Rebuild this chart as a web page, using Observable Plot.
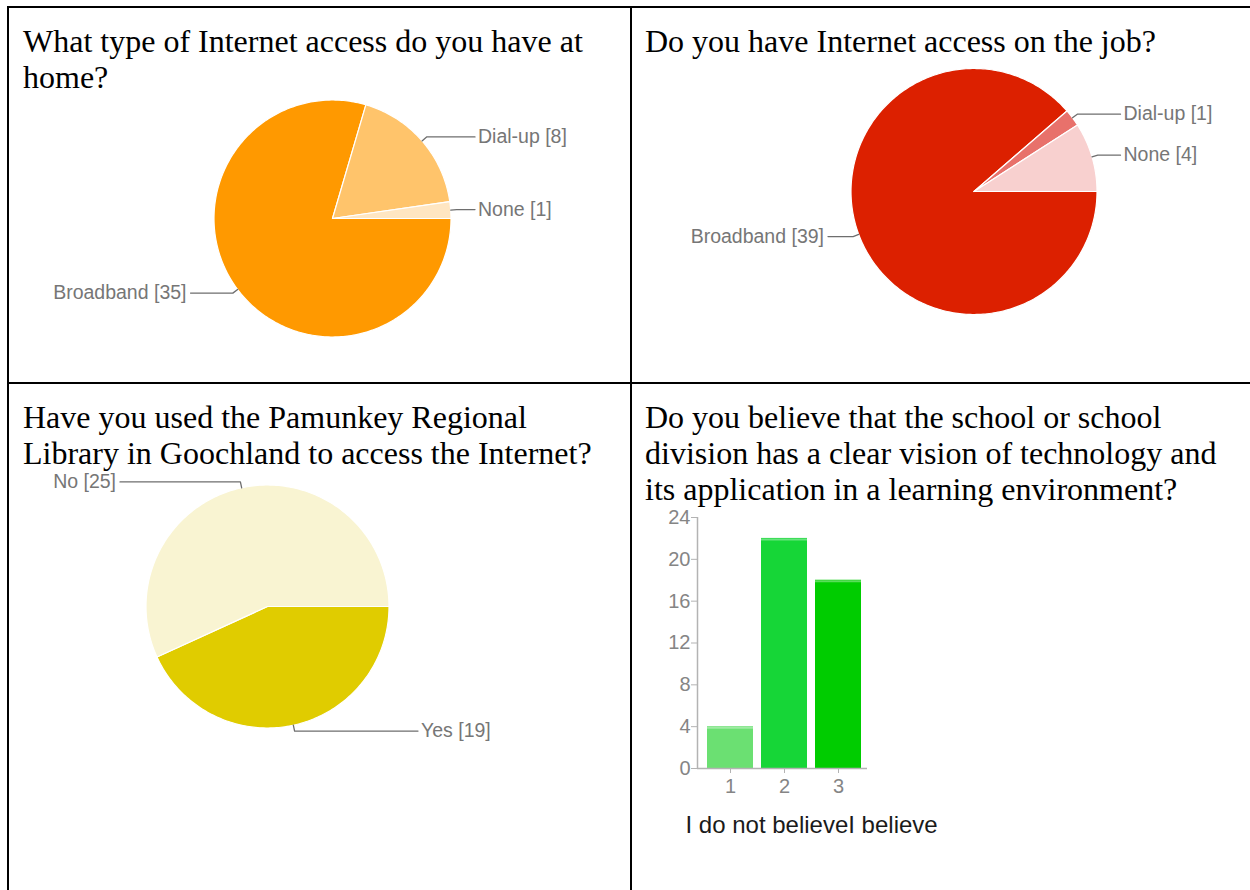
<!DOCTYPE html>
<html><head><meta charset="utf-8">
<script src="https://cdn.jsdelivr.net/npm/d3@7"></script>
<script src="https://cdn.jsdelivr.net/npm/@observablehq/plot@0.6"></script>
<style>
body{margin:0;background:#fff;width:1250px;height:890px;overflow:hidden;position:relative;}
.line{position:absolute;background:#000;}
.title{position:absolute;font-family:"Liberation Serif","Times New Roman",serif;font-size:32px;line-height:36.3px;color:#000;white-space:nowrap;z-index:2;}
.chart{position:absolute;z-index:1;}
.bar g[aria-label$="tick label"], .bar g[aria-label$="tick label"] text{font-size:20px;}
</style></head><body>
<script>
// ---- data ----
const titles = [
  "What type of Internet access do you have at<br>home?",
  "Do you have Internet access on the job?",
  "Have you used the Pamunkey Regional<br>Library in Goochland to access the Internet?",
  "Do you believe that the school or school<br>division has a clear vision of technology and<br>its application in a learning environment?"
];
const homeCategories = ["Broadband", "Dial-up", "None"];
const homeCounts = [35, 8, 1];
const jobCategories = ["Broadband", "Dial-up", "None"];
const jobCounts = [39, 1, 4];
const libraryCategories = ["Yes", "No"];
const libraryCounts = [19, 25];
const visionRatings = ["1", "2", "3"];
const visionCounts = [4, 22, 18];
const visionTicks = [0, 4, 8, 12, 16, 20, 24];
const visionAxisLabel = "I do not believeI believe";

// ---- styles ----
const homeColors = ["#ff9900", "#ffc46b", "#ffe6c2"];
const jobColors = ["#dc2000", "#e8716b", "#f8d0cf"];
const libraryColors = ["#e0cc00", "#f9f4d2"];
const visionColors = ["#6be072", "#16d637", "#00cc00"];
const SANS = "'Liberation Sans', Arial, Helvetica, sans-serif";

// ---- table grid ----
function box(cls, css, html) {
  const d = document.createElement("div");
  d.className = cls;
  Object.assign(d.style, css);
  if (html) d.innerHTML = html;
  document.body.appendChild(d);
  return d;
}
box("line", {left: "7px", top: "6px", width: "1243px", height: "2px"});
box("line", {left: "7px", top: "6px", width: "2px", height: "884px"});
box("line", {left: "630px", top: "6px", width: "2px", height: "884px"});
box("line", {left: "7px", top: "382px", width: "1243px", height: "2px"});

box("title", {left: "23px", top: "22.7px"}, titles[0]);
box("title", {left: "645px", top: "22.7px"}, titles[1]);
box("title", {left: "23px", top: "398.7px"}, titles[2]);
box("title", {left: "645px", top: "398.7px"}, titles[3]);

// ---- pies ----
function pieChart({left, top, W, H, cx, cy, r, categories, counts, colors, gapL, gapR}) {
  const arcs = d3.pie().sort(null).startAngle(Math.PI / 2).endAngle(Math.PI / 2 + 2 * Math.PI)(counts);
  const slices = arcs.map((a, i) => {
    const n = Math.max(3, Math.ceil((a.endAngle - a.startAngle) / (Math.PI / 180)));
    const pts = [{x: cx, y: cy}];
    for (let k = 0; k <= n; k++) {
      const t = a.startAngle + (a.endAngle - a.startAngle) * k / n;
      pts.push({x: cx + r * Math.sin(t), y: cy - r * Math.cos(t)});
    }
    return {pts, color: colors[i]};
  });
  const leaders = arcs.map((a, i) => {
    const m = (a.startAngle + a.endAngle) / 2;
    const s = Math.sin(m), c = Math.cos(m);
    const right = s > 0;
    const ex = cx + (r + 6) * s, ey = cy - (r + 6) * c;
    const endX = right ? cx + r + gapR : cx - r - gapL;
    return {right, label: `${categories[i]} [${counts[i]}]`,
      pts: [{x: cx + r * s, y: cy - r * c}, {x: ex, y: ey}, {x: endX, y: ey}]};
  });
  const chart = Plot.plot({
    width: W, height: H, margin: 0,
    style: {background: "transparent", fontFamily: SANS},
    x: {domain: [left, left + W], range: [0, W], axis: null},
    y: {domain: [top, top + H], range: [0, H], axis: null},
    marks: [
      ...slices.map(s => Plot.line(s.pts, {x: "x", y: "y", fill: s.color, stroke: "white", strokeWidth: 1.2, curve: "linear-closed"})),
      ...leaders.map(l => Plot.line(l.pts, {x: "x", y: "y", stroke: "#6e6e6e", strokeWidth: 1.3})),
      Plot.text(leaders.filter(l => l.right), {x: d => d.pts[2].x, y: d => d.pts[2].y, text: "label", textAnchor: "start", dx: 3, fontSize: 19.5, fill: "#767676", fontFamily: SANS}),
      Plot.text(leaders.filter(l => !l.right), {x: d => d.pts[2].x, y: d => d.pts[2].y, text: "label", textAnchor: "end", dx: -4, fontSize: 19.5, fill: "#767676", fontFamily: SANS})
    ]
  });
  const holder = box("chart", {left: left + "px", top: top + "px"});
  holder.appendChild(chart);
}

pieChart({left: 0, top: 0, W: 630, H: 382, cx: 332, cy: 218, r: 118.5,
  categories: homeCategories, counts: homeCounts, colors: homeColors, gapL: 23.5, gapR: 24});
pieChart({left: 632, top: 0, W: 618, H: 382, cx: 973.5, cy: 191, r: 123,
  categories: jobCategories, counts: jobCounts, colors: jobColors, gapL: 23, gapR: 23.5});
pieChart({left: 0, top: 384, W: 630, H: 506, cx: 267, cy: 606, r: 121.5,
  categories: libraryCategories, counts: libraryCounts, colors: libraryColors, gapL: 26, gapR: 29});

// ---- bar chart ----
const visionData = visionRatings.map((rating, i) => ({rating, count: visionCounts[i], color: visionColors[i]}));
const barW = 320, barH = 360, mL = 57, mR = 93, mT = 17, mB = 92;
const bar = Plot.plot({
  width: barW, height: barH, marginLeft: mL, marginRight: mR, marginTop: mT, marginBottom: mB,
  style: {background: "transparent", fontFamily: SANS},
  x: {domain: visionRatings, paddingInner: 0.148, paddingOuter: 0.148, align: 0.625},
  y: {domain: [0, 24]},
  color: {type: "identity"},
  marks: [
    Plot.barY(visionData, {x: "rating", y: "count", fill: "color"}),
    Plot.tickY(visionData, {x: "rating", y: "count", stroke: "white", strokeOpacity: 0.35, strokeWidth: 2, dy: 1}),
    Plot.ruleY([0], {stroke: "#b3b3b3", strokeWidth: 1.5}),
    Plot.ruleX([0], {x: null, y1: 0, y2: 24, dx: -(barW - mL - mR) / 2, stroke: "#b3b3b3", strokeWidth: 1.5}),
    Plot.axisY(visionTicks, {tickSize: 6, tickPadding: 1, fontSize: 20, color: "#858585", stroke: "#b3b3b3", label: null}),
    Plot.axisX({tickSize: 5, tickPadding: 5, fontSize: 20, color: "#858585", stroke: "#b3b3b3", label: null}),
    Plot.text([visionAxisLabel], {frameAnchor: "bottom-left", textAnchor: "start", dx: -12, dy: 64.5, fontSize: 24, fill: "#1a1a1a", fontFamily: SANS})
  ]
});
const bh = box("chart bar", {left: "640px", top: "500px"});
bh.appendChild(bar);
</script>
</body></html>
